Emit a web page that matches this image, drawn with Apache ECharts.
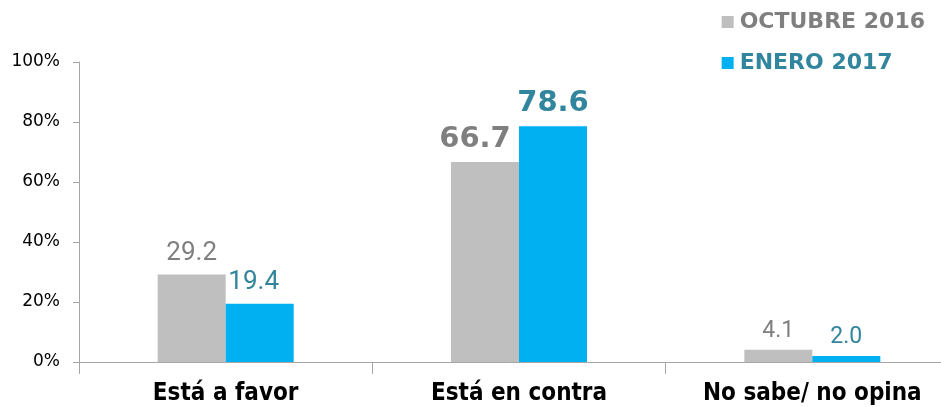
<!DOCTYPE html>
<html><head><meta charset="utf-8">
<script src="https://cdn.jsdelivr.net/npm/echarts@6/dist/echarts.min.js"></script>
<style>html,body{margin:0;padding:0;background:#fff}#c{width:941px;height:407px}</style>
</head><body><div id="c"></div>
<script>
const categories = ['Está a favor', 'Está en contra', 'No sabe/ no opina'];
const octubre2016 = [29.2, 66.7, 4.1];
const enero2017 = [19.4, 78.6, 2.0];
const yTicks = [0, 20, 40, 60, 80, 100];
const seriesNames = ['OCTUBRE 2016', 'ENERO 2017'];

const grayBar = '#bfbfbf', blueBar = '#00b0f0', grayText = '#7f7f7f', tealText = '#31859c';

function items(vals, color, bigIdx, offsets) {
  return vals.map((v, i) => ({
    value: v,
    label: {
      show: true, position: 'top', color: color,
      fontFamily: i === bigIdx ? '"DejaVu Sans", sans-serif' : 'Roboto, sans-serif',
      fontSize: i === bigIdx ? 29 : (i === 2 ? 23 : 26),
      fontWeight: i === bigIdx ? 'bold' : 'normal',
      offset: offsets[i],
      formatter: p => p.value.toFixed(1)
    }
  }));
}

const chart = echarts.init(document.getElementById('c'));
chart.setOption({
  animation: false,
  grid: { left: 79, width: 880, top: 62, height: 300, containLabel: false, outerBoundsMode: 'none' },
  legend: {
    orient: 'vertical', right: 11, top: 6, itemGap: 19,
    icon: 'rect', itemWidth: 12, itemHeight: 12,
    data: [
      { name: seriesNames[0], textStyle: { color: grayText } },
      { name: seriesNames[1], textStyle: { color: tealText } }
    ],
    textStyle: { fontFamily: '"DejaVu Sans", sans-serif', fontSize: 22, fontWeight: 'bold', padding: [0, 0, 0, 1] }
  },
  xAxis: {
    type: 'category', data: categories,
    axisLine: { lineStyle: { color: '#a6a6a6', width: 1 } },
    axisTick: { show: true, length: 12, lineStyle: { color: '#a6a6a6' } },
    axisLabel: { color: '#000', fontSize: 24, fontWeight: 'bold', margin: 20,
      fontFamily: '"Liberation Sans Narrow", "DejaVu Sans Condensed", sans-serif' }
  },
  yAxis: {
    type: 'value', min: 0, max: 100, interval: 20,
    axisLine: { show: true, lineStyle: { color: '#a6a6a6' } },
    axisTick: { show: true, length: 6, lineStyle: { color: '#a6a6a6' } },
    splitLine: { show: false },
    axisLabel: { color: '#000', fontSize: 17, margin: 19, fontFamily: '"DejaVu Sans", sans-serif',
      formatter: v => yTicks.includes(v) ? v + '%' : '' }
  },
  series: [
    { name: seriesNames[0], type: 'bar', barWidth: 68, barGap: '0%',
      itemStyle: { color: grayBar },
      data: items(octubre2016, grayText, 1, [[0, -3], [-10, -3], [0, -2]]) },
    { name: seriesNames[1], type: 'bar', barWidth: 68,
      itemStyle: { color: blueBar },
      data: items(enero2017, tealText, 1, [[-6, -3], [0, -3], [0, -2]]) }
  ]
});
</script></body></html>
